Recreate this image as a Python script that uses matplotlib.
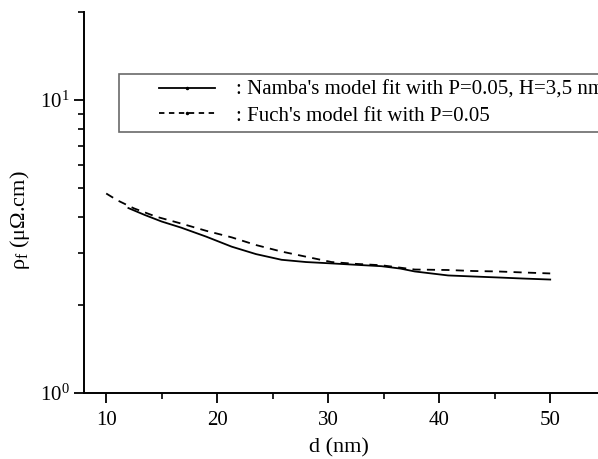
import matplotlib
matplotlib.use('Agg')
import matplotlib.pyplot as plt
from matplotlib.lines import Line2D
from matplotlib.legend_handler import HandlerLine2D
from matplotlib.ticker import LogLocator, MultipleLocator

plt.rcParams['font.family'] = 'Liberation Serif'
plt.rcParams['mathtext.fontset'] = 'custom'
plt.rcParams['mathtext.rm'] = 'Liberation Serif'
plt.rcParams['mathtext.it'] = 'Liberation Serif:italic'

# Namba's model fit (P=0.05, H=3.5 nm)
d_namba = [12, 13.5, 15, 16.75, 19, 21.3, 23.5, 25.8, 28, 30.3, 32.5, 34.8, 36.5, 37.8, 40.8, 43, 45.3, 47.5, 50]
rho_namba = [4.28, 4.05, 3.85, 3.67, 3.42, 3.16, 2.98, 2.85, 2.80, 2.77, 2.74, 2.71, 2.66, 2.60, 2.52, 2.50, 2.48, 2.46, 2.44]

# Fuchs model fit (P=0.05)
d_fuchs = [10, 11, 12.5, 14.5, 16.75, 19, 21.3, 23.5, 25.8, 28, 30.3, 32.5, 34.8, 37.8, 40.8, 43, 45.3, 47.5, 50]
rho_fuchs = [4.80, 4.55, 4.27, 4.00, 3.79, 3.58, 3.40, 3.20, 3.04, 2.92, 2.80, 2.76, 2.73, 2.64, 2.63, 2.61, 2.60, 2.58, 2.56]

fig = plt.figure(figsize=(5.98, 4.59), dpi=100)
ax = fig.add_axes([0.1405, 0.1438, 0.8724, 0.8301])

dash = (0, (4.5, 3.5))
ax.plot(d_namba, rho_namba, color='black', lw=1.3, linestyle='-')
ax.plot(d_fuchs, rho_fuchs, color='black', lw=1.3, linestyle=dash)

ax.set_yscale('log')
ax.set_xlim(8, 55)
ax.set_ylim(1, 20)

ax.xaxis.set_major_locator(MultipleLocator(10))
ax.xaxis.set_minor_locator(MultipleLocator(5))
ax.yaxis.set_major_locator(LogLocator(base=10))
ax.yaxis.set_minor_locator(LogLocator(base=10, subs=range(2, 10)))

for side in ['top', 'right']:
    ax.spines[side].set_visible(False)
for side in ['left', 'bottom']:
    ax.spines[side].set_linewidth(1.4)

ax.tick_params(which='major', direction='out', length=7, width=1.3, labelsize=15)
ax.tick_params(which='minor', direction='out', length=4.5, width=1.2)
ax.tick_params(axis='x', which='major', pad=6)

ax.set_xlabel('d (nm)', fontsize=16)
ax.xaxis.set_label_coords(0.489, -0.12)
ax.set_ylabel(r'ρ$_{\mathrm{f}}$ (μΩ.cm)', fontsize=16)
ax.yaxis.set_label_coords(-0.10, 0.454)

handles = [
    Line2D([], [], color='black', lw=1.3, linestyle='-', marker='.', markersize=3),
    Line2D([], [], color='black', lw=1.3, linestyle=(0, (3, 2.5)), marker='.', markersize=3),
]
labels = [": Namba's model fit with P=0.05, H=3,5 nm", ": Fuch's model fit with P=0.05"]
leg = fig.legend(handles, labels, loc='upper left', bbox_to_anchor=(119 / 598, 1 - 74 / 459),
                 borderaxespad=0, fontsize=15, frameon=True, fancybox=False, edgecolor='#444444',
                 handlelength=4.3, handletextpad=1.0, borderpad=0.3, labelspacing=0.3,
                 numpoints=1, handler_map={Line2D: HandlerLine2D(numpoints=1, xpad=1.6)})
leg.get_frame().set_linewidth(1.2)

plt.savefig('out.png', dpi=100)
plt.close()
